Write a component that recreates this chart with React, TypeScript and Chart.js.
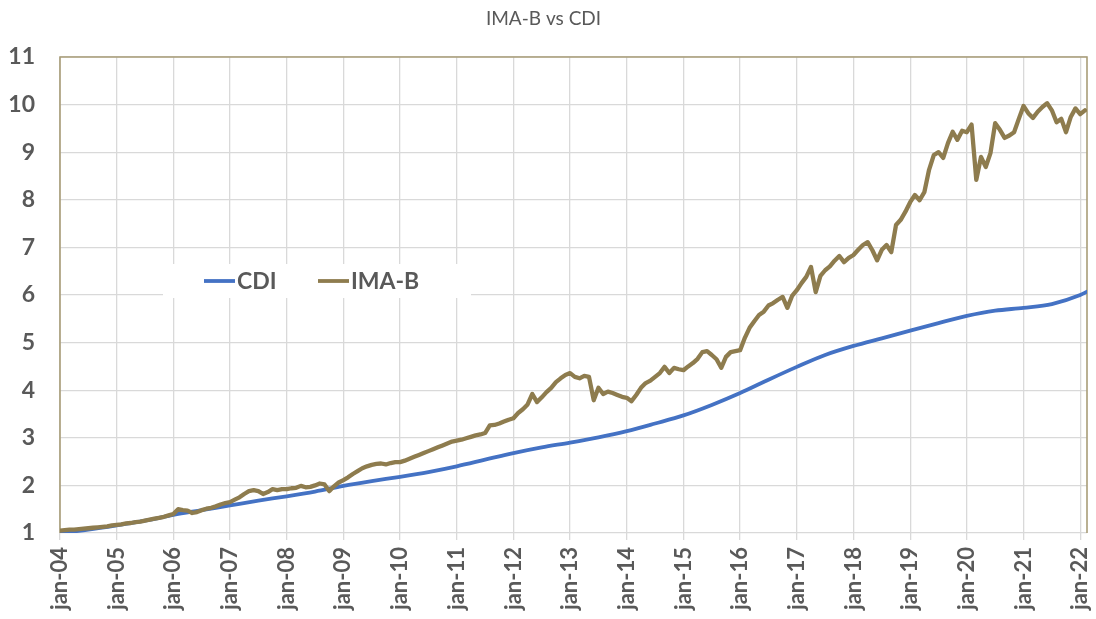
import { useEffect, useRef } from 'react';
import { Chart, registerables } from 'chart.js';

Chart.register(...registerables);

const chartTitle = 'IMA-B vs CDI';
const seriesNames = ['CDI', 'IMA-B'];
const seriesColors = ['#4472C4', '#8E7C4E'];

const tickYears = [2004, 2005, 2006, 2007, 2008, 2009, 2010, 2011, 2012, 2013, 2014, 2015, 2016, 2017, 2018, 2019, 2020, 2021, 2022];
const tickLabels = ['jan-04', 'jan-05', 'jan-06', 'jan-07', 'jan-08', 'jan-09', 'jan-10', 'jan-11', 'jan-12', 'jan-13', 'jan-14', 'jan-15', 'jan-16', 'jan-17', 'jan-18', 'jan-19', 'jan-20', 'jan-21', 'jan-22'];
const xMin = 2004;
const xMax = 2022.12;

// CDI, read every half year
const cdiYears = [2004, 2004.5, 2005, 2005.5, 2006, 2006.5, 2007, 2007.5, 2008, 2008.5, 2009, 2009.5, 2010, 2010.5, 2011, 2011.5, 2012, 2012.5, 2013, 2013.5, 2014, 2014.5, 2015, 2015.5, 2016, 2016.5, 2017, 2017.5, 2018, 2018.5, 2019, 2019.5, 2020, 2020.5, 2021, 2021.5, 2022, 2022.12];
const cdiValues = [1.0, 1.07, 1.16, 1.26, 1.38, 1.48, 1.58, 1.68, 1.77, 1.87, 1.99, 2.09, 2.18, 2.28, 2.4, 2.54, 2.68, 2.8, 2.9, 3.01, 3.14, 3.3, 3.47, 3.69, 3.94, 4.22, 4.49, 4.74, 4.93, 5.09, 5.25, 5.41, 5.56, 5.67, 5.73, 5.81, 6.0, 6.07];

// IMA-B, monthly from jan-04
const imabStart = 2004;
const imabValues = [
  1.05, 1.06, 1.07, 1.07, 1.08, 1.09, 1.1, 1.11, 1.12, 1.13, 1.14, 1.16,
  1.17, 1.18, 1.2, 1.21, 1.23, 1.24, 1.26, 1.28, 1.3, 1.32, 1.34, 1.37,
  1.4, 1.5, 1.48, 1.47, 1.42, 1.44, 1.48, 1.51, 1.53, 1.56, 1.6, 1.63,
  1.65, 1.7, 1.75, 1.82, 1.88, 1.9, 1.88, 1.82, 1.86, 1.92, 1.9, 1.92,
  1.92, 1.94, 1.95, 1.99, 1.96, 1.97, 2.0, 2.04, 2.02, 1.88, 1.98, 2.06,
  2.11, 2.17, 2.24, 2.3, 2.36, 2.4, 2.43, 2.45, 2.46, 2.44, 2.47, 2.49,
  2.49, 2.52, 2.56, 2.6, 2.64, 2.68, 2.72, 2.76, 2.8, 2.84, 2.88, 2.92,
  2.94, 2.96, 2.99, 3.02, 3.05, 3.07, 3.1, 3.26, 3.27, 3.3, 3.34, 3.38,
  3.41, 3.52, 3.6, 3.7, 3.92, 3.75, 3.85, 3.96, 4.05, 4.17, 4.25, 4.32,
  4.36, 4.28, 4.25, 4.3, 4.28, 3.79, 4.05, 3.92, 3.97, 3.94, 3.9, 3.86,
  3.84, 3.77, 3.9, 4.05, 4.15, 4.2, 4.28, 4.36, 4.49, 4.36, 4.47, 4.44,
  4.42, 4.5, 4.57, 4.66, 4.8, 4.82, 4.74, 4.65, 4.47, 4.7, 4.8, 4.82,
  4.84, 5.1, 5.31, 5.45, 5.58, 5.65, 5.78, 5.83, 5.9, 5.96, 5.73, 5.98,
  6.1, 6.25, 6.38, 6.59, 6.06, 6.4, 6.52, 6.6, 6.72, 6.82, 6.69, 6.78,
  6.84, 6.95, 7.05, 7.11, 6.94, 6.73, 6.95, 7.05, 6.9, 7.47, 7.58, 7.75,
  7.95, 8.1, 7.99, 8.16, 8.63, 8.94, 9.0, 8.88, 9.19, 9.43, 9.26, 9.45,
  9.42, 9.58, 8.42, 8.9, 8.69, 8.98, 9.61, 9.47, 9.3, 9.35, 9.42, 9.7,
  9.97, 9.82, 9.72, 9.85, 9.95, 10.03, 9.88, 9.63, 9.7, 9.42, 9.74, 9.92,
  9.8, 9.88,
];

const yMin = 1;
const yMax = 11;
const textColor = '#595959';
const gridColor = '#d9d9d9';
const frameColor = '#a99d78';
const fontFamily = 'Lato, "Open Sans", sans-serif';

const framePlugin = {
  id: 'frame',
  beforeDatasetsDraw(chart: any) {
    const { ctx, chartArea } = chart;
    ctx.save();
    ctx.strokeStyle = frameColor;
    ctx.lineWidth = 1.6;
    ctx.beginPath();
    ctx.moveTo(chartArea.left, chartArea.bottom);
    ctx.lineTo(chartArea.left, chartArea.top);
    ctx.lineTo(chartArea.right, chartArea.top);
    ctx.lineTo(chartArea.right, chartArea.bottom);
    ctx.stroke();
    ctx.restore();
  },
};

const legendPlugin = {
  id: 'innerLegend',
  afterDatasetsDraw(chart: any) {
    const { ctx } = chart;
    ctx.save();
    ctx.fillStyle = '#ffffff';
    ctx.fillRect(163, 264, 308, 34);
    ctx.font = `bold 23px ${fontFamily}`;
    ctx.textBaseline = 'middle';
    ctx.textAlign = 'left';
    const starts = [204, 318];
    chart.data.datasets.forEach((ds: any, i: number) => {
      const x0 = starts[i];
      const y = 281;
      ctx.strokeStyle = ds.borderColor;
      ctx.lineWidth = 3.8;
      ctx.beginPath();
      ctx.moveTo(x0, y);
      ctx.lineTo(x0 + 31, y);
      ctx.stroke();
      ctx.fillStyle = textColor;
      ctx.fillText(ds.label, x0 + 33, y + 1);
    });
    ctx.restore();
  },
};

export default function App() {
  const canvasRef = useRef<HTMLCanvasElement | null>(null);

  useEffect(() => {
    document.body.style.margin = '0';
    const canvas = canvasRef.current;
    if (!canvas) return;
    const cdiData = cdiYears.map((x, i) => ({ x, y: cdiValues[i] }));
    const imabData = imabValues.map((y, i) => ({ x: imabStart + i / 12, y }));

    const chart = new Chart(canvas, {
      type: 'line',
      data: {
        datasets: [
          {
            label: seriesNames[0],
            data: cdiData,
            borderColor: seriesColors[0],
            backgroundColor: seriesColors[0],
            borderWidth: 3.8,
            pointRadius: 0,
            cubicInterpolationMode: 'monotone',
            borderCapStyle: 'round',
            order: 1,
          },
          {
            label: seriesNames[1],
            data: imabData,
            borderColor: seriesColors[1],
            backgroundColor: seriesColors[1],
            borderWidth: 4.3,
            pointRadius: 0,
            tension: 0,
            borderJoinStyle: 'round',
            borderCapStyle: 'round',
            order: 0,
          },
        ],
      },
      options: {
        animation: false,
        responsive: false,
        layout: { padding: { left: 0, right: 9, top: 0, bottom: 0 } },
        plugins: {
          legend: { display: false },
          tooltip: { enabled: false },
          title: {
            display: true,
            text: chartTitle,
            color: textColor,
            font: { family: fontFamily, size: 19, weight: 'normal' },
            padding: { top: 7, bottom: 27.2 },
          },
        },
        scales: {
          x: {
            type: 'linear',
            min: xMin,
            max: xMax,
            afterBuildTicks: (scale: any) => {
              scale.ticks = tickYears.map((v) => ({ value: v }));
            },
            afterFit: (scale: any) => {
              scale.height = 86;
              scale.paddingLeft = 0;
              scale.paddingRight = 0;
            },
            ticks: {
              autoSkip: false,
              minRotation: 90,
              maxRotation: 90,
              padding: 7,
              color: textColor,
              font: { family: fontFamily, size: 22, weight: 'bold' },
              callback: (_v: any, i: number) => tickLabels[i],
            },
            grid: { color: gridColor, lineWidth: 1.3, drawTicks: true, tickLength: 7 },
            border: { display: false },
          },
          y: {
            type: 'linear',
            min: yMin,
            max: yMax,
            afterFit: (scale: any) => {
              scale.width = 60;
            },
            ticks: {
              stepSize: 1,
              padding: 25,
              color: textColor,
              font: { family: fontFamily, size: 23, weight: 'bold' },
            },
            grid: { color: gridColor, lineWidth: 1.3, drawTicks: false },
            border: { display: false },
          },
        },
      },
      plugins: [framePlugin, legendPlugin],
    } as any);

    return () => chart.destroy();
  }, []);

  return (
    <div style={{ position: 'fixed', left: 0, top: 0, width: 1096, height: 619, background: '#ffffff' }}>
      <canvas ref={canvasRef} width={1096} height={619} />
    </div>
  );
}
